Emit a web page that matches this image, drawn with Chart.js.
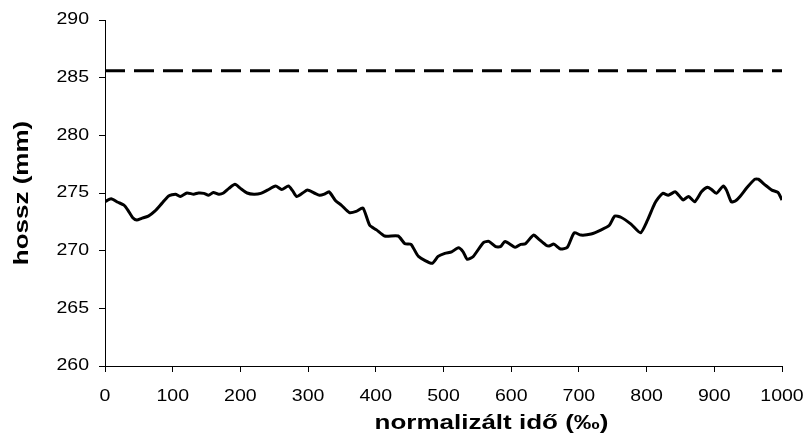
<!DOCTYPE html>
<html>
<head>
<meta charset="utf-8">
<script src="https://cdn.jsdelivr.net/npm/chart.js@4/dist/chart.umd.min.js"></script>
<style>
html,body{margin:0;padding:0;background:#fff;}
canvas{display:block;}
</style>
</head>
<body>
<canvas id="c" width="807" height="439"></canvas>
<script>
// normalised time (‰)
const timeValues = [0,9,19,28,34,41,47,54,64,74,84,94,104,111,121,131,138,146,153,160,168,175,183,192,200,210,220,230,240,252,261,271,277,283,292,299,309,317,324,331,341,349,361,371,381,391,401,413,433,443,452,463,483,492,502,512,522,529,535,544,559,567,577,584,591,606,614,621,633,641,651,656,663,673,683,693,703,718,733,745,753,762,777,791,801,809,814,824,832,842,849,854,862,871,881,890,896,903,913,918,925,931,938,948,960,965,975,985,994,1000];
// length (mm)
const lengthValues = [274.25,274.5,274.2,273.95,273.5,272.85,272.65,272.8,273.0,273.45,274.1,274.74,274.9,274.7,275.0,274.9,275.0,274.97,274.8,275.05,274.9,275.0,275.4,275.75,275.4,275.0,274.9,274.97,275.25,275.6,275.3,275.6,275.2,274.7,275.0,275.25,275.0,274.8,274.9,275.1,274.3,273.95,273.3,273.4,273.7,272.2,271.8,271.27,271.27,270.6,270.55,269.5,268.9,269.5,269.77,269.9,270.25,269.9,269.25,269.5,270.7,270.8,270.35,270.35,270.8,270.3,270.55,270.6,271.35,270.98,270.5,270.4,270.57,270.14,270.3,271.55,271.35,271.44,271.8,272.2,273.0,272.9,272.3,271.55,272.6,273.7,274.3,274.97,274.8,275.1,274.7,274.4,274.7,274.24,275.1,275.5,275.3,274.97,275.6,275.25,274.24,274.3,274.7,275.45,276.2,276.2,275.7,275.25,275.05,274.4];
// reference (dashed) level
const referenceX = [0, 1000];
const referenceY = [285.6, 285.6];

const xTitle = 'normalizált idő (‰)';
const yTitle = 'hossz (mm)';

const toPoints = (xs, ys) => xs.map((x, i) => ({x: x, y: ys[i]}));
const FONT = "'Liberation Sans', Arial, sans-serif";

// the reference uses horizontally widened lettering; draw text with a horizontal stretch
const wideText = {
  id: 'wideText',
  beforeDraw(chart) {
    const ctx = chart.ctx;
    const orig = ctx.fillText;
    ctx._origFillText = orig;
    ctx.fillText = function (text, x, y) {
      const bold = this.font.indexOf('bold') >= 0;
      const s = bold ? 1.3 : 1.22;
      const dx = text === xTitle ? 48 : 0;
      this.save();
      this.translate(x + dx, y);
      this.scale(s, 1);
      orig.call(this, text, 0, 0);
      this.restore();
    };
  },
  afterDraw(chart) {
    chart.ctx.fillText = chart.ctx._origFillText;
  }
};

new Chart(document.getElementById('c'), {
  type: 'scatter',
  plugins: [wideText],
  data: {
    datasets: [
      {
        data: toPoints(referenceX, referenceY),
        showLine: true,
        borderColor: '#000',
        borderWidth: 3,
        borderDash: [20, 9],
        pointRadius: 0,
        fill: false
      },
      {
        data: toPoints(timeValues, lengthValues),
        showLine: true,
        borderColor: '#000',
        borderWidth: 3,
        tension: 0.2,
        pointRadius: 0,
        fill: false
      }
    ]
  },
  options: {
    responsive: false,
    animation: false,
    devicePixelRatio: 1,
    layout: {padding: {left: 0, right: 0, top: 20, bottom: 0}},
    plugins: {legend: {display: false}, tooltip: {enabled: false}},
    scales: {
      x: {
        type: 'linear',
        min: 0, max: 1000,
        afterFit: s => { s.height = 73; s.paddingRight = 25; s.paddingLeft = 0; },
        border: {color: '#000', width: 1},
        grid: {drawOnChartArea: false, drawTicks: true, tickLength: 6, color: '#000'},
        ticks: {stepSize: 100, color: '#000', font: {family: FONT, size: 16}, padding: 15, maxRotation: 0,
                callback: v => String(v)},
        title: {display: true, text: xTitle, color: '#000', font: {family: FONT, size: 20, weight: 'bold'}, padding: {top: 0, bottom: 4}}
      },
      y: {
        min: 260, max: 290,
        afterFit: s => { s.width = 105; },
        border: {color: '#000', width: 1},
        grid: {drawOnChartArea: false, drawTicks: true, tickLength: 6, color: '#000'},
        ticks: {stepSize: 5, color: '#000', font: {family: FONT, size: 16}, padding: 10},
        title: {display: true, text: yTitle, color: '#000', font: {family: FONT, size: 20, weight: 'bold'}, padding: {top: 10, bottom: 0}}
      }
    }
  }
});
</script>
</body>
</html>
